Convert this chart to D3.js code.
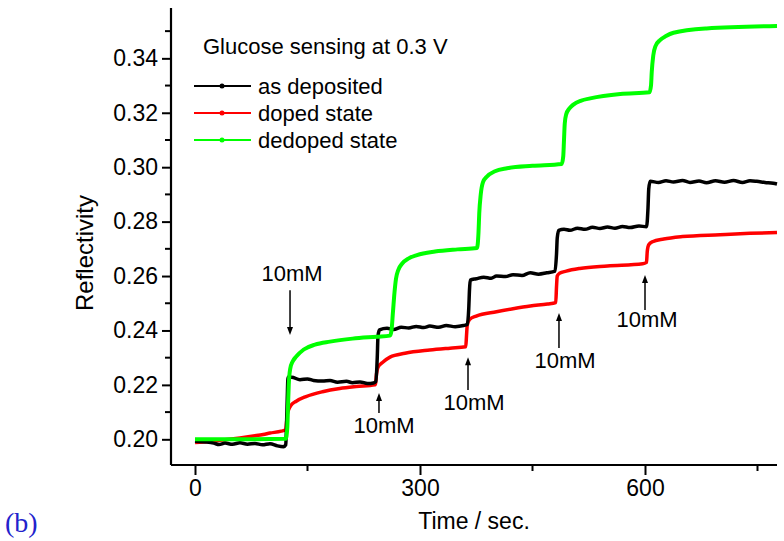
<!DOCTYPE html>
<html lang="en">
<head>
  <meta charset="UTF-8">
  <title>Glucose sensing</title>
  <script src="https://d3js.org/d3.v7.min.js"></script>
  <style>
    body { margin: 0; padding: 0; background: #fff; }
    svg { display: block; }
    text { font-family: 'Liberation Sans', Arial, sans-serif; fill: #000; }
  </style>
</head>
<body>
  <svg id="chart" width="784" height="541"></svg>

  <script>
    // data: [time (s), reflectivity]
    var asDeposited = [
      [0,0.1993],[15,0.1990],[25,0.1986],[32,0.1981],[40,0.1986],[50,0.1982],[60,0.1987],[70,0.1982],
      [80,0.1985],[90,0.1980],[100,0.1984],[110,0.1976],[118,0.1973],[121,0.1980],[122,0.2050],
      [123,0.2150],[124,0.2228],[129,0.2228],[140,0.2219],[150,0.2222],[158,0.2216],[170,0.2214],
      [180,0.2216],[190,0.2210],[202,0.2213],[210,0.2208],[220,0.2211],[230,0.2205],[238,0.2207],
      [241,0.2212],[243,0.2300],[244,0.2380],[246,0.2402],[256,0.2408],[265,0.2404],[275,0.2412],
      [285,0.2409],[295,0.2415],[305,0.2411],[313,0.2416],[325,0.2412],[335,0.2418],[347,0.2414],
      [358,0.2418],[363,0.2422],[365,0.2480],[366,0.2550],[367,0.2585],[375,0.2590],[385,0.2596],
      [395,0.2592],[402,0.2600],[414,0.2598],[424,0.2605],[436,0.2602],[447,0.2612],[458,0.2607],
      [469,0.2612],[480,0.2618],[482,0.2680],[483,0.2740],[485,0.2768],[492,0.2772],[500,0.2768],
      [510,0.2776],[520,0.2772],[530,0.2779],[540,0.2775],[550,0.2780],[560,0.2776],[570,0.2782],
      [580,0.2778],[592,0.2784],[602,0.2781],[604,0.2850],[605,0.2920],[607,0.2948],[618,0.2944],
      [628,0.2950],[638,0.2946],[650,0.2951],[660,0.2944],[672,0.2949],[682,0.2943],[694,0.2950],
      [706,0.2945],[718,0.2951],[730,0.2944],[740,0.2950],[749,0.2948],[760,0.2944],[771,0.2941],[776,0.2938]
    ];
    var dopedState = [
      [0,0.1988],[20,0.1992],[40,0.1998],[60,0.2005],[80,0.2013],[91,0.2018],[100,0.2023],[115,0.2030],
      [121,0.2035],[122,0.2060],[123,0.2090],[125,0.2110],[128,0.2125],[135,0.2140],[148,0.2157],
      [170,0.2175],[193,0.2187],[215,0.2194],[240,0.2200],[241,0.2210],[242,0.2240],[244,0.2265],
      [250,0.2282],[260,0.2302],[280,0.2316],[313,0.2328],[340,0.2335],[361,0.2340],[362,0.2380],
      [363,0.2420],[366,0.2440],[375,0.2453],[402,0.2469],[424,0.2480],[447,0.2490],[470,0.2497],
      [481,0.2502],[482,0.2560],[483,0.2600],[486,0.2610],[495,0.2618],[513,0.2628],[550,0.2637],
      [597,0.2645],[602,0.2650],[603,0.2690],[605,0.2715],[610,0.2726],[625,0.2736],[650,0.2745],
      [700,0.2752],[740,0.2757],[776,0.2760]
    ];
    var dedopedState = [
      [0,0.2000],[60,0.2000],[121,0.2002],[123,0.2040],[124,0.2120],[125,0.2200],[127,0.2260],
      [130,0.2285],[135,0.2304],[145,0.2330],[160,0.2348],[180,0.2359],[210,0.2370],[242,0.2377],
      [260,0.2381],[262,0.2400],[264,0.2470],[266,0.2540],[268,0.2590],[271,0.2622],[276,0.2645],
      [285,0.2665],[296,0.2677],[320,0.2690],[350,0.2698],[376,0.2703],[378,0.2760],[379,0.2830],
      [381,0.2900],[384,0.2945],[389,0.2965],[400,0.2985],[416,0.2996],[450,0.3005],[489,0.3012],
      [491,0.3040],[492,0.3100],[493,0.3160],[495,0.3195],[499,0.3215],[504,0.3229],[515,0.3245],
      [527,0.3253],[567,0.3269],[606,0.3275],[608,0.3300],[609,0.3350],[611,0.3410],[614,0.3445],
      [620,0.3467],[628,0.3482],[638,0.3494],[682,0.3510],[776,0.3519]
    ];

    var seriesNames = ['as deposited', 'doped state', 'dedoped state'];
    var seriesColors = ['#000000', '#ff0000', '#00ff00'];

    var xTicks = [0, 300, 600];
    var xMinorTicks = [150, 450, 750];
    var yTicks = [0.20, 0.22, 0.24, 0.26, 0.28, 0.30, 0.32, 0.34];
    var yMinorTicks = [0.21, 0.23, 0.25, 0.27, 0.29, 0.31, 0.33, 0.35];

    // 10mM injection marks: arrow time, arrow tail/tip values, label value
    var marks = [
      {t: 126.7, tail: 0.2548, tip: 0.2383, label: 0.2583, dx: 2},
      {t: 245.3, tail: 0.2097, tip: 0.2170, label: 0.2023, dx: 5},
      {t: 364.0, tail: 0.2181, tip: 0.2302, label: 0.2107, dx: 6},
      {t: 485.3, tail: 0.2336, tip: 0.2464, label: 0.2262, dx: 6},
      {t: 600.0, tail: 0.2475, tip: 0.2604, label: 0.2413, dx: 2}
    ];

    var svg = d3.select('#chart');
    var plotLeft = 171, plotRight = 777, plotTop = 8, plotBottom = 465;

    var x = d3.scaleLinear().domain([-32, 776]).range([plotLeft, plotRight]);
    var y = d3.scaleLinear().domain([0.19056, 0.3585]).range([plotBottom, plotTop]);

    // axes (left and bottom only)
    var xAxis = svg.append('g').attr('transform', 'translate(0,' + plotBottom + ')');
    xAxis.call(d3.axisBottom(x).tickValues(xTicks).tickSize(10).tickPadding(5).tickFormat(d3.format('d')));
    svg.append('g').selectAll('line').data(xMinorTicks).enter().append('line')
      .attr('x1', function(d) { return x(d); }).attr('x2', function(d) { return x(d); })
      .attr('y1', plotBottom).attr('y2', plotBottom + 6)
      .attr('stroke', '#000').attr('stroke-width', 2);

    var yAxis = svg.append('g').attr('transform', 'translate(' + plotLeft + ',0)');
    yAxis.call(d3.axisLeft(y).tickValues(yTicks).tickSize(9).tickPadding(4).tickFormat(d3.format('.2f')));
    svg.append('g').selectAll('line').data(yMinorTicks).enter().append('line')
      .attr('x1', plotLeft - 6).attr('x2', plotLeft)
      .attr('y1', function(d) { return y(d); }).attr('y2', function(d) { return y(d); })
      .attr('stroke', '#000').attr('stroke-width', 2);

    [xAxis, yAxis].forEach(function(a) {
      a.select('.domain').attr('stroke-width', 2.2);
      a.selectAll('.tick line').attr('stroke-width', 2);
      a.selectAll('.tick text').attr('font-size', 23).attr('font-family', "'Liberation Sans', Arial, sans-serif");
    });
    xAxis.select('.domain').attr('d', 'M' + plotLeft + ',0H' + plotRight);
    yAxis.select('.domain').attr('d', 'M0,' + plotTop + 'V' + plotBottom);

    // series
    var line = d3.line()
      .x(function(d) { return x(d[0]); })
      .y(function(d) { return y(d[1]); })
      .curve(d3.curveMonotoneX);

    var plot = svg.append('g');
    [[dopedState, 1, 3.5], [asDeposited, 0, 3.5], [dedopedState, 2, 4]].forEach(function(s) {
      plot.append('path')
        .datum(s[0])
        .attr('fill', 'none')
        .attr('stroke', seriesColors[s[1]])
        .attr('stroke-width', s[2])
        .attr('stroke-linejoin', 'round')
        .attr('d', line);
    });

    // injection arrows
    var ann = svg.append('g');
    marks.forEach(function(m) {
      var xp = x(m.t), y0 = y(m.tail), y1 = y(m.tip);
      var dir = y1 > y0 ? 1 : -1;
      ann.append('line')
        .attr('x1', xp).attr('x2', xp)
        .attr('y1', y0).attr('y2', y1 - dir * 6)
        .attr('stroke', '#000').attr('stroke-width', 1.5);
      ann.append('path')
        .attr('d', 'M' + xp + ',' + y1 + 'L' + (xp - 3) + ',' + (y1 - dir * 8) + 'L' + (xp + 3) + ',' + (y1 - dir * 8) + 'Z')
        .attr('fill', '#000');
      ann.append('text')
        .attr('x', xp + m.dx).attr('y', y(m.label))
        .attr('text-anchor', 'middle').attr('font-size', 22)
        .text('10mM');
    });

    // legend
    var legend = svg.append('g');
    legend.append('text').attr('x', 203).attr('y', 54).attr('font-size', 22)
      .text('Glucose sensing at 0.3 V');
    var legendY = [86, 113, 140];
    seriesNames.forEach(function(name, i) {
      var g = legend.append('g').attr('transform', 'translate(0,' + legendY[i] + ')');
      g.append('line').attr('x1', 194).attr('x2', 251).attr('y1', 0).attr('y2', 0)
        .attr('stroke', seriesColors[i]).attr('stroke-width', 2);
      g.append('circle').attr('cx', 222).attr('cy', 0).attr('r', 2.5).attr('fill', seriesColors[i]);
      g.append('text').attr('x', 258).attr('y', 8).attr('font-size', 22).text(name);
    });

    // axis titles
    svg.append('text')
      .attr('x', 474).attr('y', 529)
      .attr('text-anchor', 'middle').attr('font-size', 23)
      .text('Time / sec.');
    svg.append('text')
      .attr('transform', 'translate(93,253)rotate(-90)')
      .attr('text-anchor', 'middle').attr('font-size', 24)
      .text('Reflectivity');

    svg.append('text')
      .attr('x', 5).attr('y', 532)
      .style('font-family', "'Liberation Serif', 'Times New Roman', serif")
      .style('fill', '#2222cc')
      .attr('font-size', 28)
      .text('(b)');
  </script>
</body>
</html>
